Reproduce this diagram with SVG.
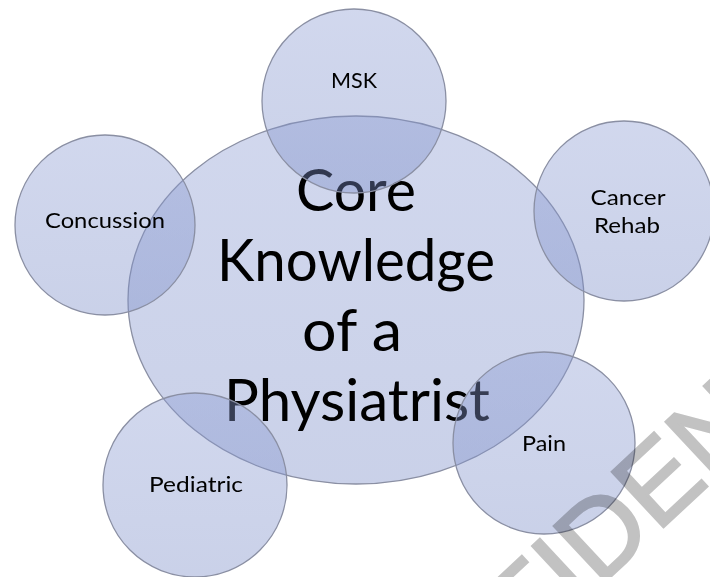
<svg xmlns="http://www.w3.org/2000/svg" width="710" height="577" viewBox="0 0 710 577">
  <style>
    .bubble { fill: url(#bubbleFill); stroke: #8a8fa3; stroke-width: 1.3; }
    .label { font-family: Lato, "Open Sans", "Liberation Sans", sans-serif; font-size: 22px; fill: #000; text-anchor: middle; }
    .core { font-family: Lato, "Open Sans", "Liberation Sans", sans-serif; font-size: 58px; fill: #000; text-anchor: middle; }
    .stamp { font-family: "Liberation Sans", Arial, sans-serif; font-size: 110px; fill: #c2c2c2; stroke: #c2c2c2; stroke-width: 2.5; mix-blend-mode: multiply; }
  </style>
  <defs>
    <linearGradient id="bubbleFill" x1="0" y1="0" x2="0" y2="1">
      <stop offset="0" stop-color="#8c9cd3" stop-opacity="0.4"/>
      <stop offset="1" stop-color="#7a8cc7" stop-opacity="0.4"/>
    </linearGradient>
  </defs>

  <rect width="710" height="577" fill="#ffffff"/>

  <!-- central topic -->
  <g id="node-core">
    <ellipse class="bubble" cx="356" cy="300" rx="228" ry="184"/>
    <text class="core" x="356" y="211" textLength="120" lengthAdjust="spacingAndGlyphs">Core</text>
    <text class="core" x="356" y="281" textLength="278" lengthAdjust="spacingAndGlyphs">Knowledge</text>
    <text class="core" x="352" y="351" textLength="100" lengthAdjust="spacingAndGlyphs">of a</text>
    <text class="core" x="357" y="421" textLength="266" lengthAdjust="spacingAndGlyphs">Physiatrist</text>
  </g>

  <!-- surrounding topics -->
  <g id="node-msk">
    <circle class="bubble" cx="354" cy="101" r="92"/>
    <text class="label" x="354" y="88" textLength="46" lengthAdjust="spacingAndGlyphs">MSK</text>
  </g>
  <g id="node-cancer-rehab">
    <circle class="bubble" cx="624" cy="211" r="90"/>
    <text class="label" x="628" y="205" textLength="75" lengthAdjust="spacingAndGlyphs">Cancer</text>
    <text class="label" x="627" y="233" textLength="66" lengthAdjust="spacingAndGlyphs">Rehab</text>
  </g>
  <g id="node-pain">
    <circle class="bubble" cx="544" cy="443" r="91"/>
    <text class="label" x="544" y="451" textLength="44" lengthAdjust="spacingAndGlyphs">Pain</text>
  </g>
  <g id="node-pediatric">
    <circle class="bubble" cx="195" cy="485" r="92"/>
    <text class="label" x="196" y="492" textLength="94" lengthAdjust="spacingAndGlyphs">Pediatric</text>
  </g>
  <g id="node-concussion">
    <circle class="bubble" cx="105" cy="225" r="90"/>
    <text class="label" x="105" y="228" textLength="120" lengthAdjust="spacingAndGlyphs">Concussion</text>
  </g>

  <!-- diagonal stamp across the lower right -->
  <text class="stamp" transform="translate(348.7 820.9) rotate(-43)" x="0" y="0">CONFIDENTIAL</text>
</svg>
